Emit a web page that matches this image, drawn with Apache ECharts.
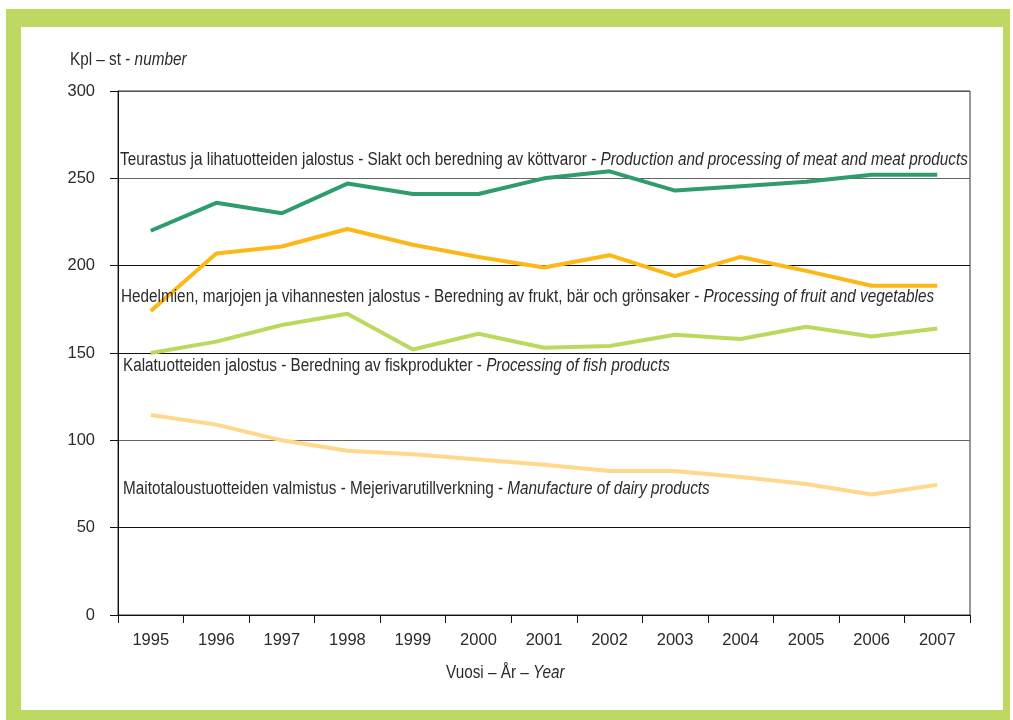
<!DOCTYPE html>
<html>
<head>
<meta charset="utf-8">
<script src="https://cdn.jsdelivr.net/npm/echarts@6/dist/echarts.min.js"></script>
<style>
  html, body { margin: 0; padding: 0; background: #fff; }
  #chart { width: 1013px; height: 720px; }
</style>
</head>
<body>
<div id="chart"></div>
<script>
const years = ['1995','1996','1997','1998','1999','2000','2001','2002','2003','2004','2005','2006','2007'];
const meat  = [220,236,230,247,241,241,250,254,243,245.5,248,252,252];
const fruit = [174,207,211,221,212,205,199,206,194,205,197,188.5,188.5];
const fish  = [150,156.5,166,172.5,152,161,153,154,160.5,158,165,159.5,164];
const dairy = [114.5,109,100,94,92,89,86,82.5,82.5,79,75,69,74.5];
const yTicks = [0,50,100,150,200,250,300];

const FONT = '"Liberation Sans", Arial, sans-serif';
const TXT = '#2b2b2b';

const chart = echarts.init(document.getElementById('chart'));

// narrow-looking text: regular font squeezed horizontally
function note(x, y, plain, italic) {
  return {
    type: 'text', x: x, y: y, scaleX: 0.85, z: 10,
    style: {
      text: '{a|' + plain + '}{b|' + italic + '}',
      align: 'left', verticalAlign: 'middle',
      rich: {
        a: { fontFamily: FONT, fontSize: 18, fill: TXT },
        b: { fontFamily: FONT, fontSize: 18, fill: TXT, fontStyle: 'italic' }
      }
    }
  };
}

const option = {
  backgroundColor: '#fff',
  animation: false,
  grid: { left: 118, right: 43, top: 91, bottom: 105, show: true, borderColor: '#333', borderWidth: 1 },
  xAxis: {
    type: 'category',
    data: years,
    boundaryGap: true,
    axisLine: { lineStyle: { color: '#111', width: 1 } },
    axisTick: { show: true, length: 8, inside: false, lineStyle: { color: '#111' } },
    axisLabel: { color: TXT, fontFamily: FONT, fontSize: 16.5, margin: 17 }
  },
  yAxis: {
    type: 'value',
    min: 0, max: 300, interval: 50,
    axisLine: { show: true, lineStyle: { color: '#111' } },
    axisTick: { show: true, length: 8, lineStyle: { color: '#111' } },
    axisLabel: {
      color: TXT, fontFamily: FONT, fontSize: 16.5, margin: 23,
      formatter: v => yTicks.indexOf(v) >= 0 ? String(v) : ''
    },
    splitLine: { show: true, lineStyle: { color: ['#111','#111','#666','#111','#111','#666','#555'], width: 1 } }
  },
  series: [
    { name: 'meat', type: 'line', data: meat, showSymbol: false, lineStyle: { color: '#2e9c6c', width: 4 }, z: 4 },
    { name: 'fruit', type: 'line', data: fruit, showSymbol: false, lineStyle: { color: '#fbb817', width: 4 }, z: 3 },
    { name: 'fish', type: 'line', data: fish, showSymbol: false, lineStyle: { color: '#bcd95f', width: 4 }, z: 3 },
    { name: 'dairy', type: 'line', data: dairy, showSymbol: false, lineStyle: { color: '#fed98c', width: 4 }, z: 3 }
  ],
  graphic: [
    { type: 'rect', z: -10, shape: { x: 6, y: 9, width: 1004, height: 720 }, style: { fill: '#bed962' } },
    { type: 'rect', z: -9, shape: { x: 21, y: 27, width: 982, height: 683 }, style: { fill: '#fff' } },
    note(70, 60, 'Kpl – st - ', 'number'),
    note(446, 673, 'Vuosi – År – ', 'Year'),
    note(120, 160, 'Teurastus ja lihatuotteiden jalostus - Slakt och beredning av köttvaror - ', 'Production and processing of meat and meat products'),
    note(121, 297, 'Hedelmien, marjojen ja vihannesten jalostus - Beredning av frukt, bär och grönsaker - ', 'Processing of fruit and vegetables'),
    note(123, 366, 'Kalatuotteiden jalostus - Beredning av fiskprodukter - ', 'Processing of fish products'),
    note(123, 489, 'Maitotaloustuotteiden valmistus - Mejerivarutillverkning - ', 'Manufacture of dairy products')
  ]
};

chart.setOption(option);
</script>
</body>
</html>
